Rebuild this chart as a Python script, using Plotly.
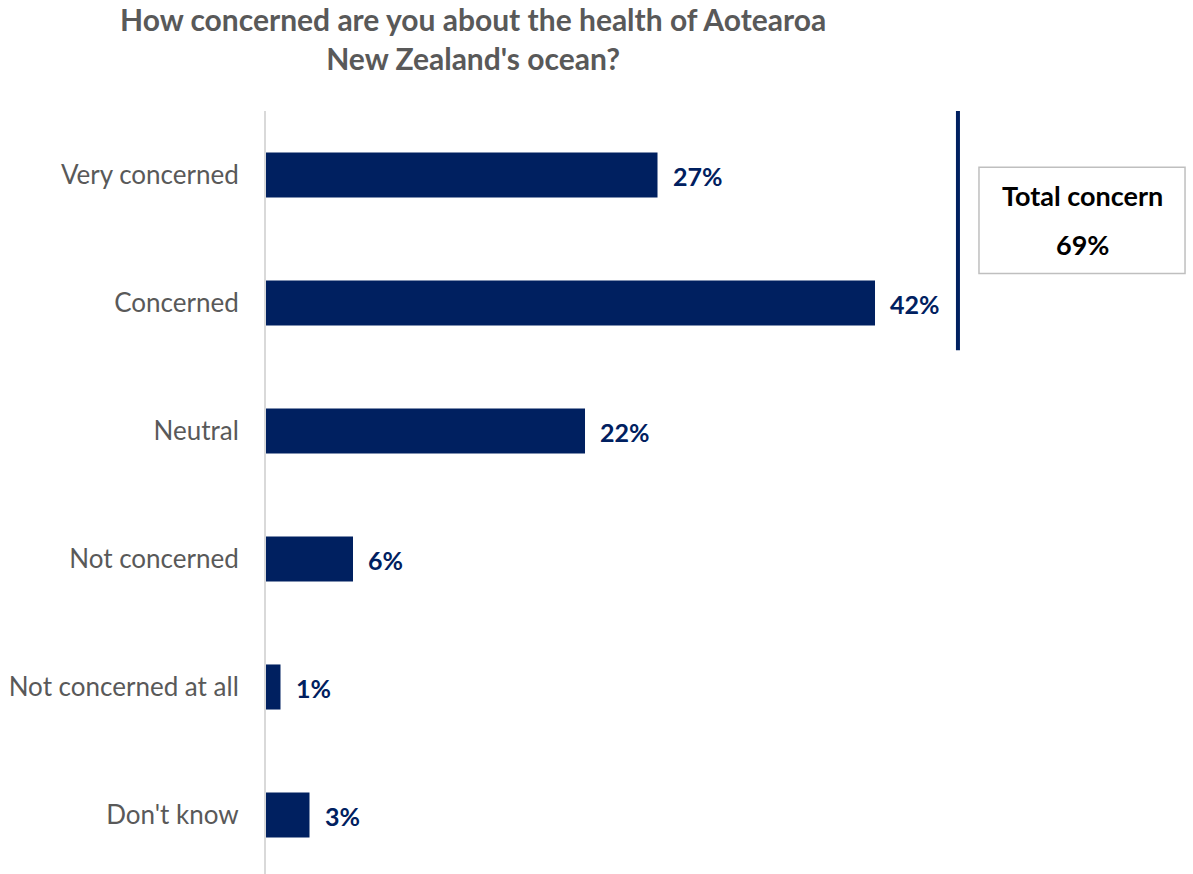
import plotly.graph_objects as go

# Survey responses
categories = ["Very concerned", "Concerned", "Neutral", "Not concerned",
              "Not concerned at all", "Don't know"]
values = [27, 42, 22, 6, 1, 3]
total_label = "Total concern"
total_value = 69
title_text = "How concerned are you about the health of Aotearoa<br>New Zealand's ocean?"

NAVY = "#002060"
GREY = "#595959"
FONT = "Lato, 'Open Sans', sans-serif"

fig = go.Figure()
fig.add_trace(go.Bar(
    x=values,
    y=categories,
    orientation="h",
    marker=dict(color=NAVY, line=dict(width=0)),
    hoverinfo="skip",
))

# Value labels to the right of each bar
for cat, v in zip(categories, values):
    fig.add_annotation(
        x=v, y=cat, text=f"<b>{v}%</b>", showarrow=False,
        xanchor="left", xshift=13, yshift=-1,
        font=dict(family=FONT, size=25, color=NAVY),
    )

# Bracket line grouping the two "concerned" answers
fig.add_shape(type="line", xref="x", yref="y",
              x0=47.72, x1=47.72, y0=-0.52, y1=1.37,
              line=dict(color=NAVY, width=4))

# Total concern box
fig.add_shape(type="rect", xref="x", yref="y",
              x0=49.17, x1=63.38, y0=-0.06, y1=0.77,
              line=dict(color="#BFBFBF", width=1.5), fillcolor="white")
fig.add_annotation(x=56.28, y=0.16, xref="x", yref="y",
                   text=f"<b>{total_label}</b>", showarrow=False,
                   font=dict(family=FONT, size=27, color="black"))
fig.add_annotation(x=56.28, y=0.54, xref="x", yref="y",
                   text=f"<b>{total_value}%</b>", showarrow=False,
                   font=dict(family=FONT, size=27, color="black"))

# Chart title (two centred lines above the plot)
fig.add_annotation(x=0.2233, y=1.0945, xref="paper", yref="paper",
                   xanchor="center", yanchor="middle", align="center",
                   text=f"<b>{title_text}</b>", showarrow=False,
                   font=dict(family=FONT, size=30, color=GREY))

fig.update_layout(
    width=1193, height=874,
    margin=dict(l=266, r=0, t=111, b=0),
    paper_bgcolor="white", plot_bgcolor="white",
    bargap=0.648,
    showlegend=False,
    xaxis=dict(range=[0, 63.93], visible=False, fixedrange=True),
    yaxis=dict(
        categoryorder="array", categoryarray=categories,
        range=[5.461, -0.5],
        showline=True, linecolor="#D9D9D9", linewidth=2,
        showgrid=False, zeroline=False, ticks="",
        ticklabelstandoff=20,
        tickfont=dict(family=FONT, size=26, color=GREY),
    ),
)

fig.write_html("out.html")
